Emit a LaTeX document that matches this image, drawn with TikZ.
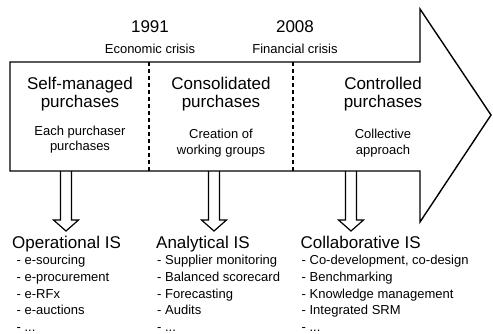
\documentclass[tikz,border=0pt]{standalone}
\usepackage{fontspec}
\setmainfont{Liberation Sans}
\begin{document}
\begin{tikzpicture}[x=1pt,y=-1pt,
  outline/.style={draw=black,line width=1.4pt,line join=miter},
  divider/.style={draw=black,line width=1.5pt,dash pattern=on 4pt off 3pt},
  hollow/.style={draw=black,line width=1.2pt,line join=miter},
  big/.style={font=\fontsize{17}{18}\selectfont,inner sep=0pt,align=center,anchor=base},
  small/.style={font=\fontsize{13}{15.5}\selectfont,inner sep=0pt,align=center,anchor=base},
  systitle/.style={font=\fontsize{17}{18}\selectfont,inner sep=0pt,anchor=base west},
  items/.style={font=\fontsize{13}{16.8}\selectfont,inner sep=0pt,align=left,anchor=base west}]
\useasboundingbox (0,0) rectangle (493,333);
\clip (0,0) rectangle (493,333);

% the timeline arrow
\draw[outline] (10,62) -- (420,62) -- (420,9) -- (491,115) -- (420,222)
  -- (420,171) -- (10,171) -- cycle;

% period boundaries
\coordinate (d1top) at (149,62);
\coordinate (d1bot) at (149,171);
\coordinate (d2top) at (293,62);
\coordinate (d2bot) at (293,171);
\draw[divider] (d1top) -- (d1bot);
\draw[divider] (d2top) -- (d2bot);

% dates and events
\node[big] (y1) at (150,32) {1991};
\node[small] (e1) at (150,53) {Economic crisis};
\node[big] (y2) at (295,32) {2008};
\node[small] (e2) at (295,53) {Financial crisis};

% periods (multi-line nodes sit on the baseline of their last line)
\node[big] (p1) at (80,107) {Self-managed\\purchases};
\node[small] (s1) at (80,150.5) {Each purchaser\\purchases};
\node[big] (p2) at (221,107) {Consolidated\\purchases};
\node[small] (s2) at (221,154) {Creation of\\working groups};
\node[big] (p3) at (383,107) {Controlled\\purchases};
\node[small] (s3) at (383,154) {Collective\\approach};

% information systems
\node[systitle] (op) at (12,248) {Operational IS};
\node[items] (opl) at (16.5,331.7) {- e-sourcing\\- e-procurement\\- e-RFx\\- e-auctions\\- ...};
\node[systitle] (an) at (156,248) {Analytical IS};
\node[items] (anl) at (157,331.7) {- Supplier monitoring\\- Balanced scorecard\\- Forecasting\\- Audits\\- ...};
\node[systitle] (co) at (300.5,248) {Collaborative IS};
\node[items] (col) at (301.5,331.7) {- Co-development, co-design\\- Benchmarking\\- Knowledge management\\- Integrated SRM\\- ...};

% hollow arrows from each period down to its systems
\coordinate (a1) at (66,171);
\coordinate (a2) at (214,171);
\coordinate (a3) at (351,171);
\foreach \p in {a1,a2,a3}{
  \draw[hollow,shift={(\p)}] (-5.5,0) -- (-5.5,49) -- (-12.5,49) -- (0,60)
    -- (12.5,49) -- (5.5,49) -- (5.5,0);
}
\end{tikzpicture}
\end{document}
